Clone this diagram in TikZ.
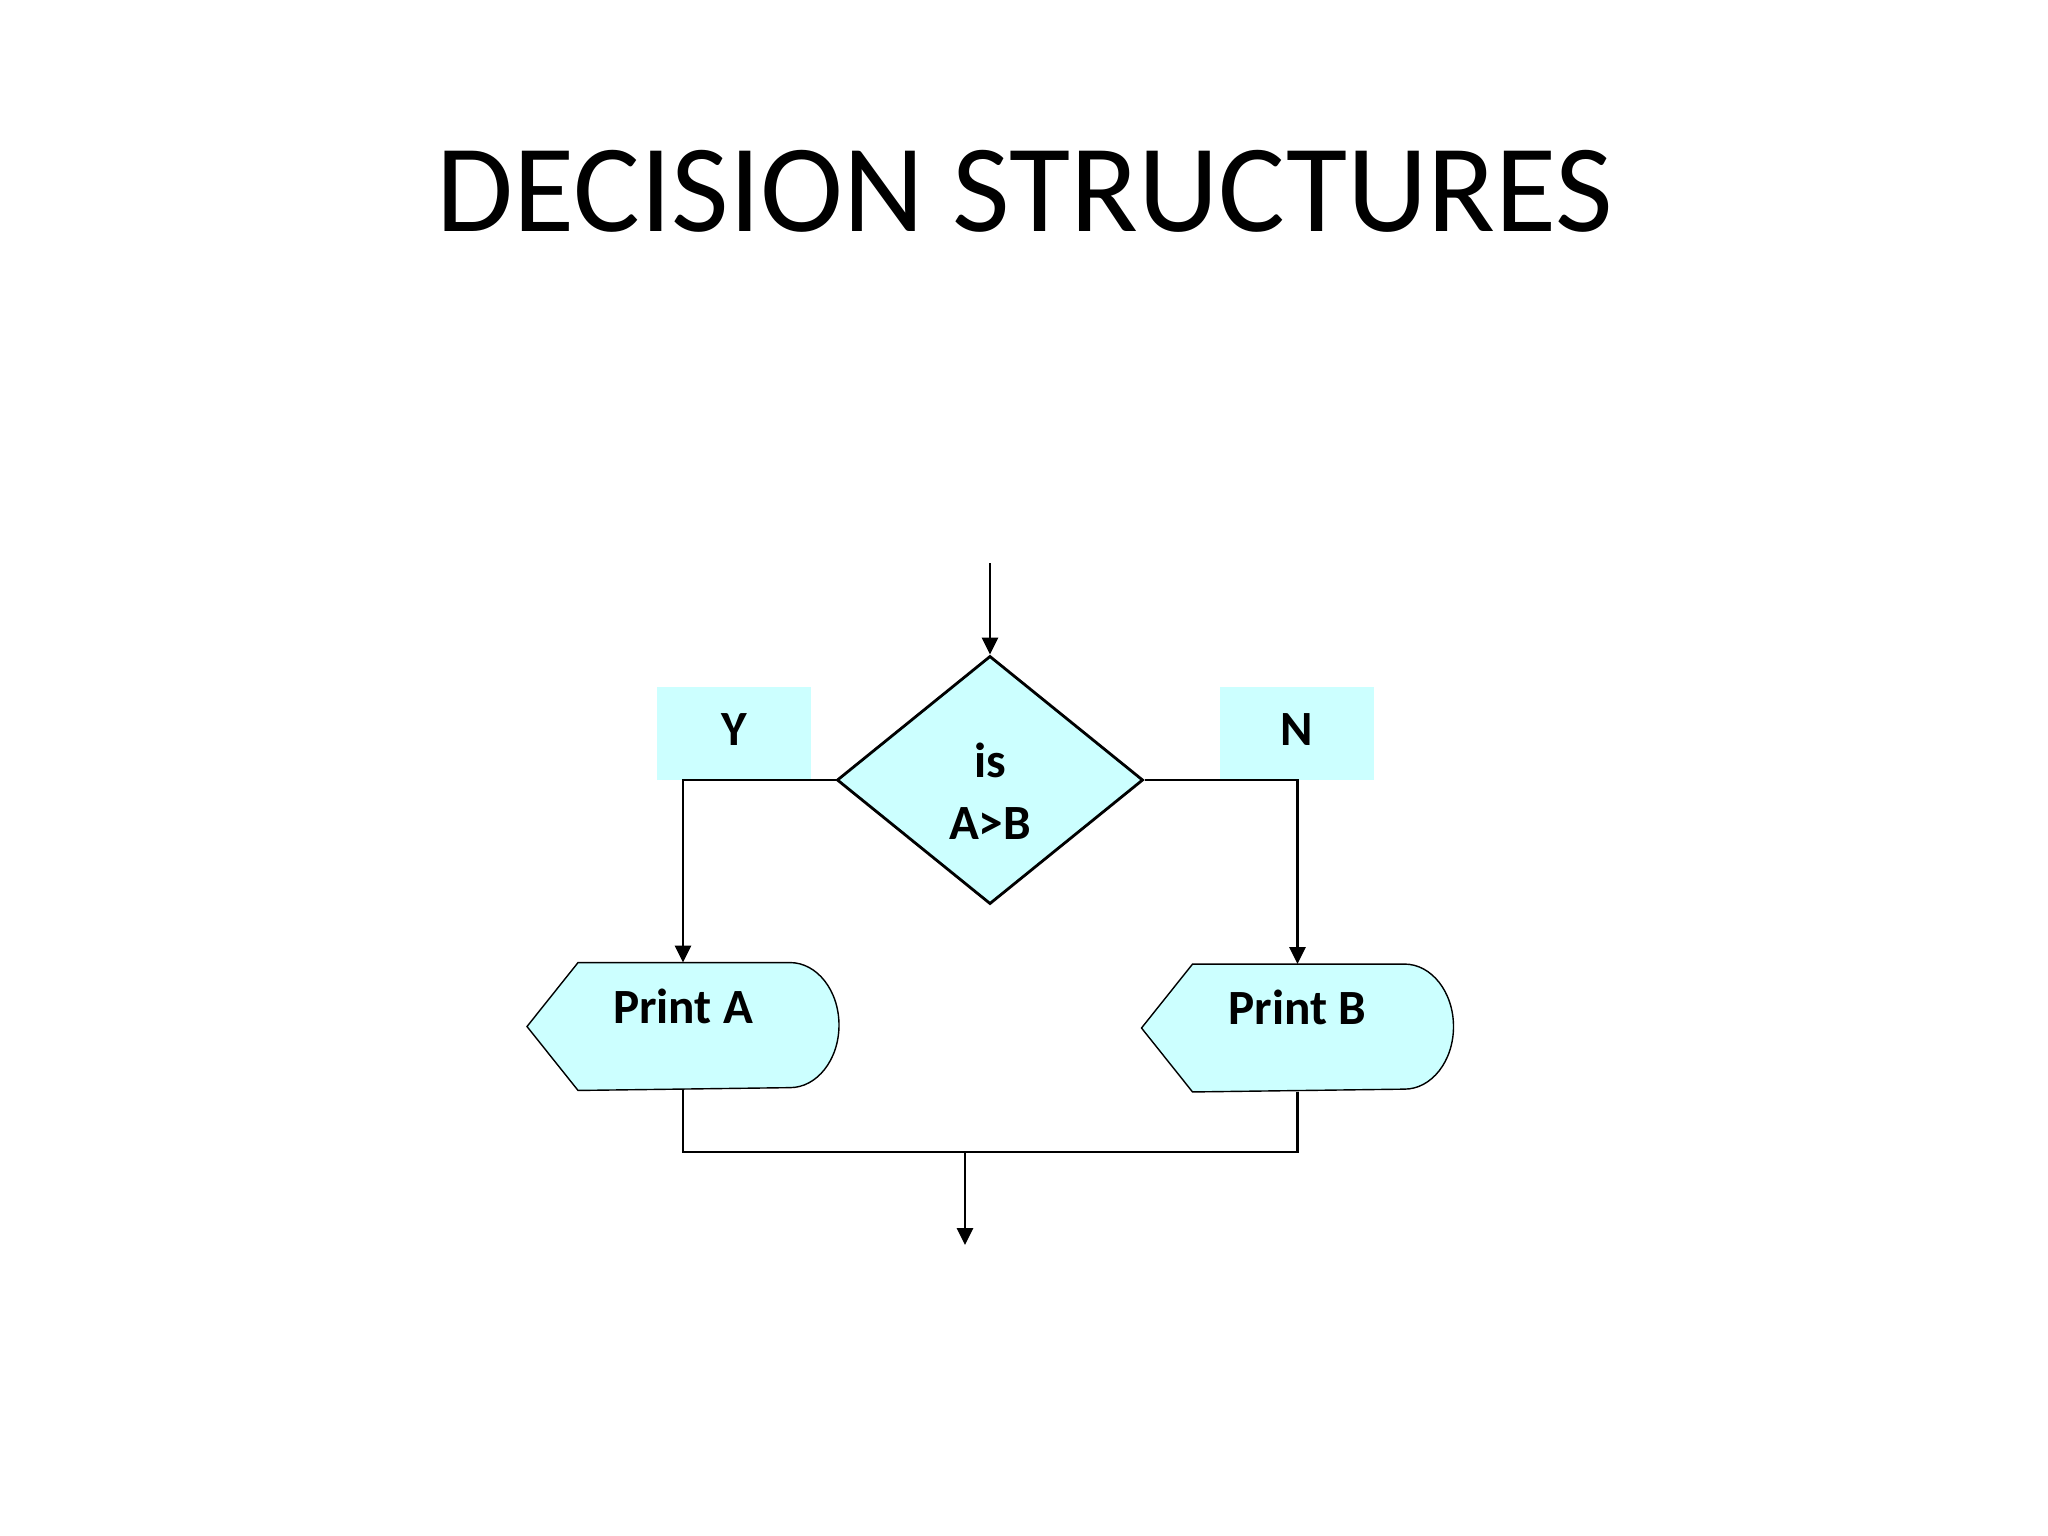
\documentclass[tikz,border=0pt]{standalone}
\usepackage{fontspec}
\setmainfont{Carlito}
\usetikzlibrary{shapes.geometric,arrows.meta,backgrounds}
\definecolor{flowcyan}{HTML}{CCFFFF}

\begin{document}
\begin{tikzpicture}[x=0.01cm, y=-0.01cm, line width=0.8pt,
    flowfont/.style={font=\bfseries\fontsize{14}{17.6}\selectfont},
    flowarrow/.style={-{Triangle[length=0.17cm,width=0.16cm]}},
    answer/.style={flowfont, fill=flowcyan, minimum width=1.54cm, inner sep=0, text height=0.58cm, text depth=0.35cm},
    printbox/.style={flowfont, minimum width=3.09cm, inner sep=0, text height=0.59cm, text depth=0.66cm}]
    \useasboundingbox (0,0) rectangle (2048,1536);

    % Title
    \node[anchor=base, font=\fontsize{35.6}{42}\selectfont] (title) at (1025,231) {DECISION STRUCTURES};

    % Decision
    \node[diamond, draw, fill=flowcyan, minimum width=3.06cm, minimum height=2.48cm, inner sep=0,
      label={[flowfont, align=center, yshift=-0.11cm]center:is\\A>B}] (test) at (990,780) {};

    % Yes / No labels
    \node[answer] (yes) at (734,733.5) {Y};
    \node[answer] (no) at (1297,733.5) {N};

    % Print boxes
    \node[printbox] (printa) at (683,1026.5) {Print A};
    \node[printbox] (printb) at (1297.5,1028) {Print B};
    \begin{scope}[on background layer]
      \foreach \p in {printa,printb}
        \draw[fill=flowcyan] (\p.west) -- ([xshift=0.51cm]\p.north west) -- ([xshift=-0.49cm]\p.north east)
          arc[start angle=90, end angle=-90, x radius=0.49cm, y radius=0.625cm] -- ([xshift=0.51cm]\p.south west) -- cycle;
    \end{scope}

    % Connectors
    \coordinate (start) at (990,563);
    \coordinate (merge) at (965,1152);
    \coordinate (finish) at (965,1245);
    \draw[flowarrow] (start) -- (test.north);
    \draw[flowarrow] (test.west) -| (printa.north);
    \draw[flowarrow] (test.east) -| (printb.north);
    \draw (printa.south) |- (merge) -| (printb.south);
    \draw[flowarrow] (merge) -- (finish);
\end{tikzpicture}
\end{document}
